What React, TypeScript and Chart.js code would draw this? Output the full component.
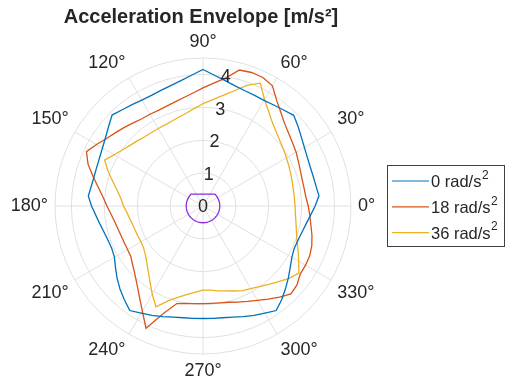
import { useEffect, useRef } from 'react';
import { Chart, registerables } from 'chart.js';

Chart.register(...registerables);

// Angle of each sample (degrees, counter-clockwise from the 0° direction)
const thetaDeg = [
  0, 5, 10, 15, 20, 25, 30, 35, 40, 45, 50, 55, 60, 65, 70, 75, 80, 85,
  90, 95, 100, 105, 110, 115, 120, 125, 130, 135, 140, 145, 150, 155, 160, 165, 170, 175,
  180, 185, 190, 195, 200, 205, 210, 215, 220, 225, 230, 235, 240, 245, 250, 255, 260, 265,
  270, 275, 280, 285, 290, 295, 300, 305, 310, 315, 320, 325, 330, 335, 340, 345, 350, 355,
];

// Envelope radius (m/s²) for each angle
const acc0 = [
  3.41, 3.54, 3.49, 3.47, 3.47, 3.50, 3.56, 3.65, 3.77, 3.90, 3.81, 3.75, 3.71, 3.71, 3.73, 3.78, 3.87, 3.99,
  4.15, 3.99, 3.87, 3.79, 3.74, 3.71, 3.72, 3.76, 3.82, 3.91, 3.75, 3.62, 3.53, 3.47, 3.44, 3.43, 3.45, 3.50,
  3.39, 3.27, 3.18, 3.11, 3.07, 3.06, 3.11, 3.25, 3.41, 3.57, 3.72, 3.88, 3.76, 3.67, 3.58, 3.50, 3.45, 3.43,
  3.42, 3.43, 3.45, 3.50, 3.58, 3.67, 3.76, 3.88, 3.72, 3.55, 3.39, 3.24, 3.12, 3.06, 3.07, 3.11, 3.18, 3.28,
];
const acc18 = [
  3.20, 3.14, 3.12, 3.12, 3.15, 3.20, 3.27, 3.33, 3.41, 3.52, 3.69, 3.91, 4.22, 4.31, 4.32, 4.28, 3.95, 3.75,
  3.59, 3.45, 3.35, 3.28, 3.23, 3.21, 3.22, 3.24, 3.30, 3.38, 3.47, 3.58, 3.74, 3.91, 3.72, 3.46, 3.23, 3.05,
  2.92, 2.81, 2.73, 2.68, 2.65, 2.64, 2.65, 2.68, 2.79, 2.93, 3.12, 3.37, 3.69, 4.10, 3.46, 3.07, 3.01, 2.98,
  2.97, 2.97, 2.99, 3.03, 3.11, 3.20, 3.31, 3.46, 3.62, 3.78, 3.73, 3.61, 3.60, 3.58, 3.52, 3.43, 3.33, 3.26,
];
const acc36 = [
  2.80, 2.79, 2.79, 2.81, 2.84, 2.88, 2.93, 2.99, 3.06, 3.16, 3.29, 3.49, 3.74, 4.12, 3.90, 3.62, 3.41, 3.24,
  3.11, 2.98, 2.87, 2.80, 2.75, 2.72, 2.72, 2.73, 2.75, 2.81, 2.88, 2.98, 3.12, 3.30, 3.07, 2.83, 2.64, 2.50,
  2.42, 2.32, 2.26, 2.21, 2.19, 2.18, 2.18, 2.21, 2.29, 2.42, 2.59, 2.81, 3.09, 3.38, 3.06, 2.87, 2.73, 2.63,
  2.56, 2.57, 2.62, 2.67, 2.75, 2.84, 2.90, 2.99, 3.11, 3.25, 3.42, 3.56, 3.36, 3.19, 3.04, 2.94, 2.87, 2.82,
];
const accInner = [
  0.51, 0.51, 0.51, 0.51, 0.51, 0.51, 0.51, 0.51, 0.51, 0.51, 0.47, 0.44, 0.416, 0.397, 0.383, 0.373, 0.366, 0.361,
  0.36, 0.361, 0.366, 0.373, 0.383, 0.397, 0.416, 0.44, 0.47, 0.51, 0.51, 0.51, 0.51, 0.51, 0.51, 0.51, 0.51, 0.51,
  0.51, 0.51, 0.51, 0.51, 0.51, 0.51, 0.51, 0.51, 0.51, 0.51, 0.51, 0.51, 0.51, 0.51, 0.51, 0.51, 0.51, 0.51,
  0.51, 0.51, 0.51, 0.51, 0.51, 0.51, 0.51, 0.51, 0.51, 0.51, 0.51, 0.51, 0.51, 0.51, 0.51, 0.51, 0.51, 0.51,
];

const seriesNames = ['0 rad/s', '18 rad/s', '36 rad/s'];
const seriesColors = ['#0072BD', '#D95319', '#EDB120'];
const innerColor = '#8A2BE2';
const angleTickDeg = [0, 30, 60, 90, 120, 150, 180, 210, 240, 270, 300, 330];
const rTicks = [0, 1, 2, 3, 4];
const rMax = 4.5;
const rTickAngleDeg = 80;
const titleText = 'Acceleration Envelope [m/s²]';

const TEXT = '#262626';
const GRID = '#e0e0e0';
const FONT = '"Liberation Sans", Arial, Helvetica, sans-serif';

// radar index i sits at (90 - 5 i)° so that angles increase counter-clockwise
const step = 360 / thetaDeg.length;
const order = thetaDeg.map((_, i) => {
  const target = ((90 - i * step) % 360 + 360) % 360;
  return thetaDeg.indexOf(target);
});
const pick = (arr: number[]) => order.map((k) => arr[k]);

const overlay = {
  id: 'overlay',
  afterDraw(chart: any) {
    const ctx: CanvasRenderingContext2D = chart.ctx;
    const s = chart.scales.r;
    const cx = s.xCenter;
    const cy = s.yCenter;
    const R = s.drawingArea;
    ctx.save();
    ctx.fillStyle = TEXT;

    // angle labels
    ctx.font = `18px ${FONT}`;
    angleTickDeg.forEach((a) => {
      const rad = (a * Math.PI) / 180;
      const c = Math.cos(rad);
      const sn = Math.sin(rad);
      const rr = R + 7;
      const x = cx + rr * c;
      const y = cy - rr * sn;
      ctx.textAlign = c > 0.01 ? 'left' : c < -0.01 ? 'right' : 'center';
      ctx.textBaseline = sn > 0.01 ? 'bottom' : sn < -0.01 ? 'top' : 'middle';
      ctx.fillText(`${a}°`, x, y + (sn < -0.01 ? 1 : 0));
    });

    // radial tick labels
    const tr = (rTickAngleDeg * Math.PI) / 180;
    ctx.textAlign = 'center';
    ctx.textBaseline = 'middle';
    rTicks.forEach((v) => {
      const d = s.getDistanceFromCenterForValue(v);
      ctx.fillText(String(v), cx + d * Math.cos(tr), cy - d * Math.sin(tr) + 1);
    });

    // title
    ctx.font = `bold 20px ${FONT}`;
    ctx.textAlign = 'center';
    ctx.textBaseline = 'alphabetic';
    ctx.fillText(titleText, cx - 2, 23);

    // legend
    const bx = 387.5;
    const by = 165.5;
    const bw = 117;
    const bh = 81;
    ctx.fillStyle = '#ffffff';
    ctx.fillRect(bx, by, bw, bh);
    ctx.strokeStyle = '#404040';
    ctx.lineWidth = 1;
    ctx.strokeRect(bx, by, bw, bh);
    seriesNames.forEach((name, i) => {
      const y = by + 15.5 + i * 25.8;
      ctx.strokeStyle = seriesColors[i];
      ctx.lineWidth = 1.2;
      ctx.beginPath();
      ctx.moveTo(392, y);
      ctx.lineTo(429, y);
      ctx.stroke();
      ctx.fillStyle = TEXT;
      ctx.font = `16.5px ${FONT}`;
      ctx.textAlign = 'left';
      ctx.textBaseline = 'middle';
      ctx.fillText(name, 431, y + 1.5);
      const w = ctx.measureText(name).width;
      ctx.font = `12px ${FONT}`;
      ctx.fillText('2', 431 + w + 0.5, y - 5.5);
    });
    ctx.restore();
  },
};

export default function App() {
  const ref = useRef<HTMLCanvasElement>(null);
  useEffect(() => {
    const datasets: any[] = [acc0, acc18, acc36].map((arr, i) => ({
      label: seriesNames[i] + '²',
      data: pick(arr),
      borderColor: seriesColors[i],
      backgroundColor: seriesColors[i],
      borderWidth: 1.3,
      pointRadius: 0,
      fill: false,
      tension: 0,
    }));
    datasets.push({
      label: 'inner',
      data: pick(accInner),
      borderColor: innerColor,
      backgroundColor: innerColor,
      borderWidth: 1.3,
      pointRadius: 0,
      fill: false,
      tension: 0,
    });
    const chart = new Chart(ref.current!, {
      type: 'radar',
      data: { labels: pick(thetaDeg), datasets },
      options: {
        responsive: false,
        devicePixelRatio: 1,
        animation: false,
        layout: { padding: { left: 55, top: 58, right: 156, bottom: 30 } },
        plugins: {
          legend: { display: false },
          title: { display: false },
          tooltip: { enabled: false },
        },
        scales: {
          r: {
            min: 0,
            max: rMax,
            startAngle: 0,
            afterBuildTicks: (scale: any) => {
              scale.ticks = rTicks.concat([rMax]).map((v) => ({ value: v }));
            },
            ticks: { display: false },
            pointLabels: { display: false },
            grid: { circular: true, color: GRID, lineWidth: 1 },
            angleLines: {
              color: GRID,
              lineWidth: (c: any) => (c.index % (30 / step) === 0 ? 1 : 0),
            },
          },
        },
      } as any,
      plugins: [overlay],
    });
    return () => chart.destroy();
  }, []);
  return (
    <div style={{ position: 'absolute', left: 0, top: 0, width: 507, height: 384, background: '#fff' }}>
      <canvas ref={ref} width={507} height={384} style={{ display: 'block', width: 507, height: 384 }} />
    </div>
  );
}
